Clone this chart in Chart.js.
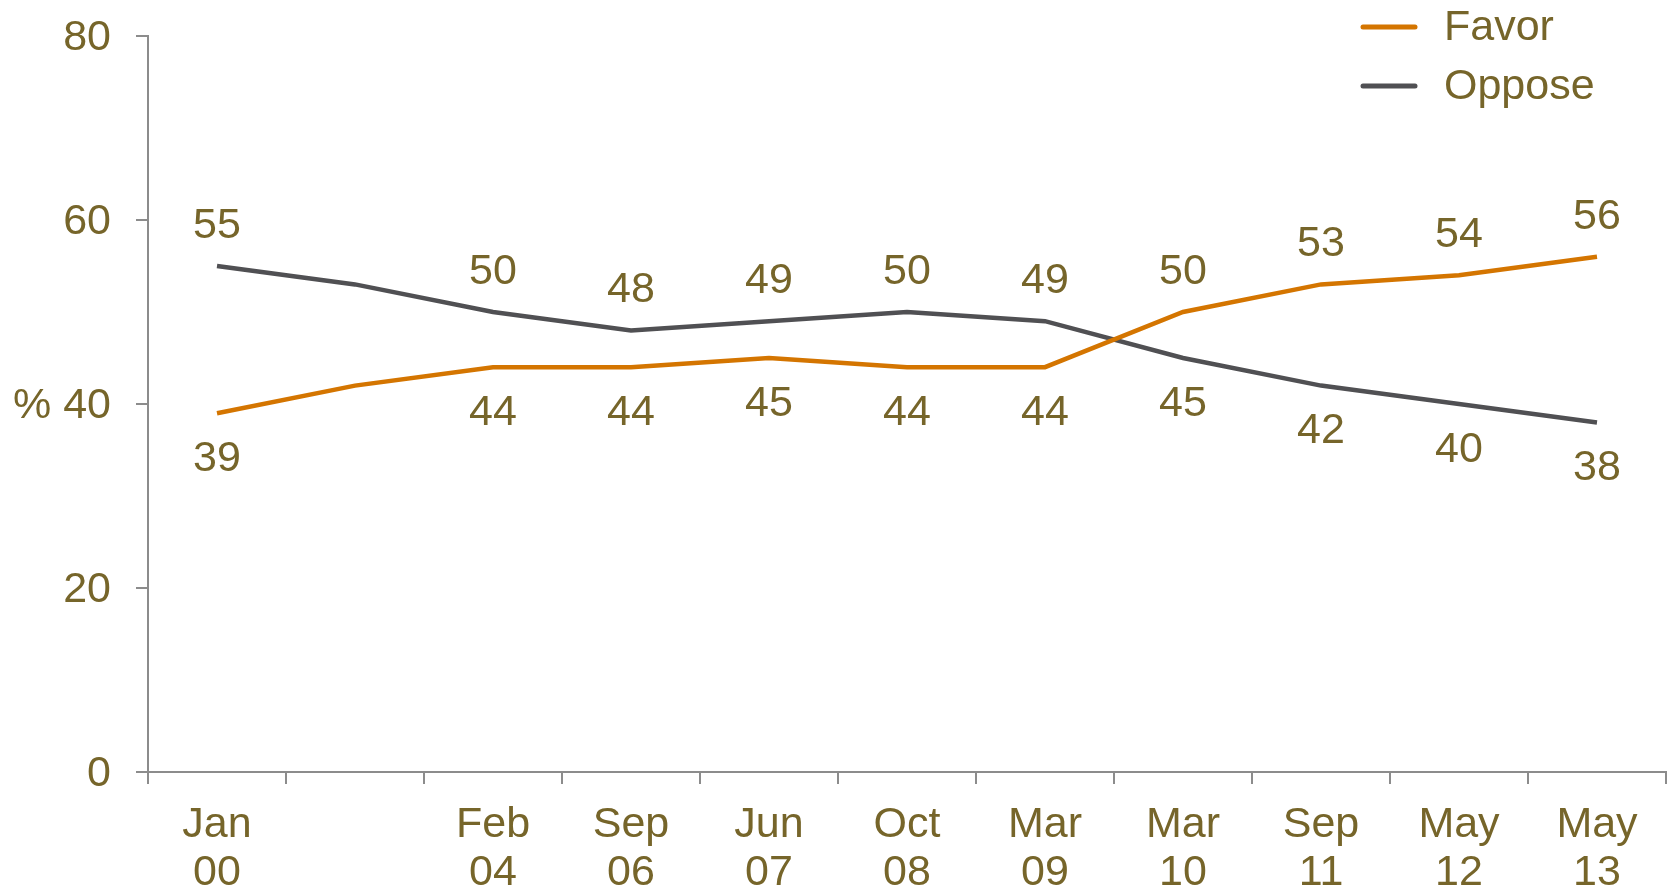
<!DOCTYPE html>
<html>
<head>
<meta charset="utf-8">
<script src="https://cdn.jsdelivr.net/npm/chart.js@4/dist/chart.umd.min.js"></script>
<style>
  html, body { margin: 0; padding: 0; background: #fff; }
  #wrap { width: 1669px; height: 889px; }
</style>
</head>
<body>
<div id="wrap"><canvas id="myChart" width="1669" height="889"></canvas></div>
<script>
// dados
const categorias = [['Jan', '00'], '', ['Feb', '04'], ['Sep', '06'], ['Jun', '07'], ['Oct', '08'],
    ['Mar', '09'], ['Mar', '10'], ['Sep', '11'], ['May', '12'], ['May', '13']];
const favor = [39, 42, 44, 44, 45, 44, 44, 50, 53, 54, 56];
const oppose = [55, 53, 50, 48, 49, 50, 49, 45, 42, 40, 38];
// pontos com rótulo de valor (o segundo ponto não tem)
const comRotulo = [true, false, true, true, true, true, true, true, true, true, true];
const yTicks = [0, 20, 40, 60, 80];

const corTexto = '#76652A';
const corEixo = '#8C8C8C';
const fonte = '"Liberation Sans", Arial, sans-serif';

// rótulos de valor: o maior acima, o menor abaixo
const rotulosPlugin = {
    id: 'rotulos',
    afterDatasetsDraw(chart) {
        const ctx = chart.ctx;
        const m0 = chart.getDatasetMeta(0).data;
        const m1 = chart.getDatasetMeta(1).data;
        ctx.save();
        ctx.font = '43px ' + fonte;
        ctx.fillStyle = corTexto;
        ctx.textAlign = 'center';
        ctx.textBaseline = 'middle';
        for (let i = 0; i < favor.length; i++) {
            if (!comRotulo[i]) continue;
            const fAcima = favor[i] > oppose[i];
            ctx.fillText(String(favor[i]), m0[i].x, m0[i].y + (fAcima ? -40 : 46));
            ctx.fillText(String(oppose[i]), m1[i].x, m1[i].y + (fAcima ? 46 : -40));
        }
        ctx.restore();
    }
};

// legenda vertical no canto superior direito
const legendaPlugin = {
    id: 'legenda',
    afterDraw(chart) {
        const ctx = chart.ctx;
        ctx.save();
        ctx.font = '43px ' + fonte;
        ctx.textBaseline = 'middle';
        ctx.lineCap = 'round';
        chart.data.datasets.forEach((ds, i) => {
            const y = 27 + i * 59;
            ctx.strokeStyle = ds.borderColor;
            ctx.lineWidth = 5;
            ctx.beginPath();
            ctx.moveTo(1363, y);
            ctx.lineTo(1415, y);
            ctx.stroke();
            ctx.fillStyle = corTexto;
            ctx.fillText(ds.label, 1444, y + 1);
        });
        ctx.restore();
    }
};

var ctx = document.getElementById('myChart');
var myChart = new Chart(ctx, {
    type: 'line',
    data: {
        labels: categorias,
        datasets: [{
            label: 'Favor',
            data: favor,
            borderColor: '#D47500',
            borderWidth: 4.5,
            pointRadius: 0,
            tension: 0
        }, {
            label: 'Oppose',
            data: oppose,
            borderColor: '#505053',
            borderWidth: 4.5,
            pointRadius: 0,
            tension: 0
        }]
    },
    options: {
        responsive: false,
        animation: false,
        layout: { padding: { top: 36, right: 3, left: 0, bottom: 0 } },
        plugins: {
            legend: { display: false },
            tooltip: { enabled: false }
        },
        scales: {
            x: {
                offset: true,
                grid: { offset: true, drawOnChartArea: false, drawTicks: true, tickLength: 12, color: corEixo, lineWidth: 2 },
                border: { display: true, color: corEixo, width: 2 },
                ticks: {
                    autoSkip: false,
                    maxRotation: 0,
                    padding: 17,
                    color: corTexto,
                    font: { family: fonte, size: 43, lineHeight: 1.12 }
                },
                afterFit(scale) { scale.height = 117; }
            },
            y: {
                min: 0,
                max: 80,
                afterBuildTicks(scale) { scale.ticks = yTicks.map(v => ({ value: v })); },
                grid: { drawOnChartArea: false, drawTicks: true, tickLength: 12, color: corEixo, lineWidth: 2 },
                border: { display: true, color: corEixo, width: 2 },
                ticks: {
                    padding: 25,
                    labelOffset: 2,
                    color: corTexto,
                    font: { family: fonte, size: 43 },
                    callback: v => v === 40 ? '% 40' : String(v)
                },
                afterFit(scale) {
                    scale.width = 148;
                    scale.paddingTop = 0;
                    scale.paddingBottom = 0;
                }
            }
        }
    },
    plugins: [rotulosPlugin, legendaPlugin]
});
</script>
</body>
</html>
